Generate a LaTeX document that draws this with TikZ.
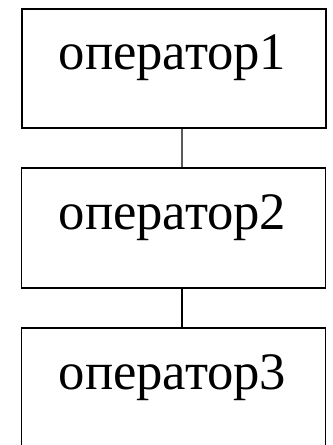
\documentclass[tikz,border=0pt]{standalone}
\usepackage{fontspec}
\setmainfont{Liberation Serif}
\begin{document}
\begin{tikzpicture}[x=0.75pt,y=-0.75pt,
  box/.style={draw=black, line width=1pt, rectangle, minimum width=228pt, inner sep=0pt},
  lbl/.style={font=\fontsize{39.5}{42}\selectfont, anchor=base, inner sep=0pt},
  conn/.style={draw=black, line width=1pt}]
\useasboundingbox (0,0) rectangle (332,445);
\clip (0,0) rectangle (332,445);
\node[box, minimum height=89.25pt] (b1) at (174,68.5) {};
\node[box, minimum height=90pt] (b2) at (173.5,228) {};
\node[box, minimum height=112.5pt] (b3) at (173.5,403) {};
\node[lbl] (t1) at (172.5,70) {оператор1};
\node[lbl] (t2) at (172.5,229) {оператор2};
\node[lbl] (t3) at (172.5,389) {оператор3};
\draw[conn] ([xshift=6pt]b1.south) -- ([xshift=6.4pt]b2.north);
\draw[conn] ([xshift=6.4pt]b2.south) -- ([xshift=6.4pt]b3.north);
\end{tikzpicture}
\end{document}
